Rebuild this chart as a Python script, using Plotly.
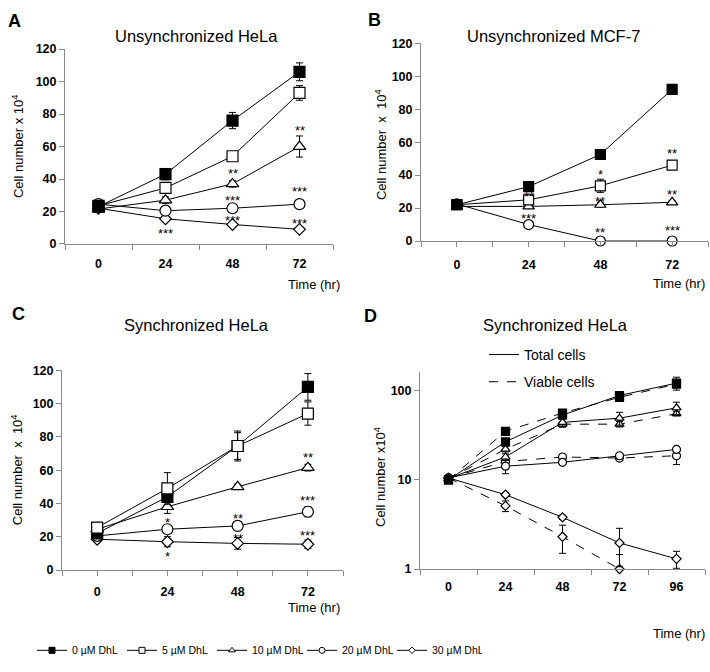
import plotly.graph_objects as go

# x categories (hours)
hours = [0, 24, 48, 72]
hours_d = [0, 24, 48, 72, 96]
dose_names = ["0 µM DhL", "5 µM DhL", "10 µM DhL", "20 µM DhL", "30 µM DhL"]

# A - unsynchronized HeLa (cell number x 10^4)
a_0 = [23, 43, 76, 106]
a_0_err = [1, 3.5, 5, 5.5]
a_5 = [23.5, 34.5, 54, 93]
a_5_err = [1, 2, 1.5, 4.5]
a_10 = [21.5, 27, 37, 60]
a_10_err = [1, 2, 2, 6.5]
a_20 = [24.5, 20.5, 22, 24.5]
a_20_err = [1, 1, 1, 2.5]
a_30 = [22, 15.5, 12, 9]
a_30_err = [0.5, 1, 1, 1]

# B - unsynchronized MCF-7
b_0 = [22, 33, 52.5, 92]
b_0_err = [0.5, 1, 2, 2]
b_5 = [22, 25, 33.5, 46]
b_5_err = [0.5, 1, 4, 1]
b_10 = [21, 21, 22, 23.5]
b_10_err = [0.5, 1, 1.5, 1]
b_20 = [22.5, 10, 0, 0]
b_20_err = [0.5, 1, 0, 0]

# C - synchronized HeLa
c_0 = [22, 44, 74.5, 110]
c_0_err = [1, 2, 8, 8]
c_5 = [25.5, 49, 74.5, 94]
c_5_err = [1, 9.5, 9, 7]
c_10 = [24.5, 38, 50, 61.5]
c_10_err = [1, 4, 1.5, 2]
c_20 = [20.5, 24.5, 26.5, 35]
c_20_err = [1, 1.5, 2, 3]
c_30 = [18.5, 17, 16, 15.5]
c_30_err = [1, 3, 3.5, 2.5]

# D - synchronized HeLa, total vs viable cells (log scale)
d_total_0 = [10, 26.6, 53, 88, 121]
d_total_0_err = [0.5, 2, 3, 4, 20]
d_viable_0 = [10, 34.9, 56, 84, 118]
d_viable_0_err = [0.5, 2, 3, 4, 10]
d_total_10 = [10.3, 18, 44, 49, 64]
d_total_10_err = [0.5, 1.5, 5, 8, 10]
d_viable_10 = [10.3, 22, 42, 42, 55]
d_viable_10_err = [0.5, 1.5, 3, 3, 3]
d_total_20 = [10.5, 14.2, 15.7, 18.6, 21.9]
d_total_20_err = [0.3, 2.5, 0.8, 1, 1]
d_viable_20 = [10.5, 16, 18, 17.5, 18.6]
d_viable_20_err = [0.3, 1, 1, 1, 3.8]
d_total_30 = [10.5, 6.8, 3.8, 1.96, 1.3]
d_total_30_err = [0.3, 0.3, 0.2, 0.9, 0.28]
d_viable_30 = [10.5, 5.1, 2.3, 1.0, None]
d_viable_30_err = [0.3, 0.7, 0.8, 0.45, 0]
d_viable_30_errminus = [0.3, 0.7, 0.8, 0, 0]

# significance marks: (hour, y, text)
stars_a = [(24, 8.5, "***"), (48, 45, "**"), (48, 28.5, "***"), (48, 16.5, "***"),
           (72, 72, "**"), (72, 34, "***"), (72, 14.5, "***")]
stars_b = [(24, 28.7, "**"), (24, 15.2, "***"), (48, 42, "*"), (48, 26, "**"),
           (48, 6.7, "**"), (72, 55, "**"), (72, 30, "**"), (72, 8, "***")]
stars_c = [(24, 30.4, "*"), (24, 9.8, "*"), (48, 33, "**"), (48, 21, "**"),
           (72, 69.6, "**"), (72, 43.5, "***"), (72, 22.5, "***")]

FONT = "Liberation Sans, Arial, sans-serif"
AXIS_GREY = "#8a8a8a"
W, H = 710, 672

STYLE = {
    "0 µM DhL": ("square", "black"),
    "5 µM DhL": ("square", "white"),
    "10 µM DhL": ("triangle-up", "white"),
    "20 µM DhL": ("circle", "white"),
    "30 µM DhL": ("diamond", "white"),
}

fig = go.Figure()


def add_series(x, y, err, dose, ax, size, dash="solid", errminus=None):
    symbol, fill = STYLE[dose]
    if symbol == "diamond":
        size = size - 2
    error = dict(type="data", array=err, color="black", thickness=1, width=3.5)
    if errminus is not None:
        error["symmetric"] = False
        error["arrayminus"] = errminus
    fig.add_trace(go.Scatter(
        x=x, y=y, mode="lines+markers",
        line=dict(color="black", width=1, dash=dash),
        marker=dict(symbol=symbol, size=size, color=fill,
                    line=dict(color="black", width=1.2)),
        error_y=error,
        xaxis="x" + ax, yaxis="y" + ax,
        showlegend=False, cliponaxis=False, hoverinfo="skip",
    ))


# panel A
for vals, err, dose in [(a_30, a_30_err, dose_names[4]), (a_20, a_20_err, dose_names[3]),
                        (a_10, a_10_err, dose_names[2]), (a_5, a_5_err, dose_names[1]),
                        (a_0, a_0_err, dose_names[0])]:
    add_series(hours, vals, err, dose, "", 11)

# panel B
for vals, err, dose in [(b_20, b_20_err, dose_names[3]), (b_10, b_10_err, dose_names[2]),
                        (b_5, b_5_err, dose_names[1]), (b_0, b_0_err, dose_names[0])]:
    add_series(hours, vals, err, dose, "2", 10)

# panel C
for vals, err, dose in [(c_30, c_30_err, dose_names[4]), (c_20, c_20_err, dose_names[3]),
                        (c_10, c_10_err, dose_names[2]), (c_0, c_0_err, dose_names[0]),
                        (c_5, c_5_err, dose_names[1])]:
    add_series(hours, vals, err, dose, "3", 11)

# panel D
add_series(hours_d, d_viable_30, d_viable_30_err, dose_names[4], "4", 9, "dash", d_viable_30_errminus)
add_series(hours_d, d_total_30, d_total_30_err, dose_names[4], "4", 9)
add_series(hours_d, d_viable_20, d_viable_20_err, dose_names[3], "4", 8, "dash")
add_series(hours_d, d_total_20, d_total_20_err, dose_names[3], "4", 8)
add_series(hours_d, d_viable_10, d_viable_10_err, dose_names[2], "4", 8, "dash")
add_series(hours_d, d_total_10, d_total_10_err, dose_names[2], "4", 8)
add_series(hours_d, d_viable_0, d_viable_0_err, dose_names[0], "4", 8, "dash")
add_series(hours_d, d_total_0, d_total_0_err, dose_names[0], "4", 8)

# bottom legend entries
for dose in dose_names:
    symbol, fill = STYLE[dose]
    fig.add_trace(go.Scatter(
        x=[None], y=[None], mode="lines+markers", name=dose,
        line=dict(color="black", width=1),
        marker=dict(symbol=symbol, size=6 if symbol != "diamond" else 5, color=fill,
                    line=dict(color="black", width=1)),
        legend="legend", showlegend=True,
    ))

# panel D line-style legend
for name, dash in [("Total cells", "solid"), ("Viable cells", "dash")]:
    fig.add_trace(go.Scatter(
        x=[None], y=[None], mode="lines", name=name,
        line=dict(color="black", width=1, dash=dash),
        xaxis="x4", yaxis="y4", legend="legend2", legendgroup=name, showlegend=True,
    ))


def px_x(p):
    return p / W


def px_y(p):
    return 1 - p / H


TICKFONT = dict(family=FONT, size=12.5, color="black", weight="bold")


def x_axis(left, right, rng, anchor, vals, minor_vals, major_ticks, standoff):
    return dict(
        domain=[px_x(left), px_x(right)], anchor=anchor, range=rng,
        showline=True, linecolor=AXIS_GREY, linewidth=1,
        showgrid=False, zeroline=False,
        tickmode="array", tickvals=vals, ticktext=[str(v) for v in vals],
        ticks="outside" if major_ticks else "", ticklen=5, tickcolor=AXIS_GREY,
        ticklabelstandoff=standoff,
        minor=dict(tickmode="array", tickvals=minor_vals, ticks="outside",
                   ticklen=5, tickcolor=AXIS_GREY, showgrid=False),
        tickfont=TICKFONT,
        fixedrange=True,
    )


def y_axis(bottom, top, rng, anchor, vals, log=False):
    d = dict(
        domain=[px_y(bottom), px_y(top)], anchor=anchor, range=rng,
        showline=True, linecolor=AXIS_GREY, linewidth=1,
        showgrid=False, zeroline=False,
        tickmode="array", tickvals=vals, ticktext=[str(v) for v in vals],
        ticks="outside", ticklen=5, tickcolor=AXIS_GREY,
        tickfont=TICKFONT,
        fixedrange=True,
    )
    if log:
        d["type"] = "log"
    return d


y_ticks = [0, 20, 40, 60, 80, 100, 120]
edges = [-12, 12, 36, 60, 84]
edges_d = [-12, 12, 36, 60, 84, 108]

fig.update_layout(
    width=W, height=H,
    margin=dict(l=0, r=0, t=0, b=0),
    paper_bgcolor="white", plot_bgcolor="white",
    font=dict(family=FONT, size=13, color="black"),
    xaxis=x_axis(65, 333, [-12, 84], "y", hours, edges, False, 8),
    yaxis=y_axis(242, 43, [0, 120], "x", y_ticks),
    xaxis2=x_axis(421, 708, [-12, 84], "y2", hours, edges, True, 7),
    yaxis2=y_axis(239, 37, [0, 120], "x2", y_ticks),
    xaxis3=x_axis(62, 343, [-12, 84], "y3", hours, edges, True, 5),
    yaxis3=y_axis(575, 371, [0, 120], "x3", y_ticks),
    xaxis4=x_axis(420, 705, [-12, 108], "y4", hours_d, edges_d, False, 6),
    yaxis4=y_axis(574, 373, [0, 2.205], "x4", [1, 10, 100], log=True),
    legend=dict(orientation="h", x=px_x(32), y=px_y(657), xanchor="left", yanchor="middle",
                font=dict(family=FONT, size=10.5, color="black"), bgcolor="rgba(0,0,0,0)",
                entrywidthmode="pixels", entrywidth=45,
                itemclick=False, itemdoubleclick=False),
    legend2=dict(orientation="v", x=px_x(484), y=px_y(339), xanchor="left", yanchor="top",
                 font=dict(family=FONT, size=14, color="black"), bgcolor="rgba(0,0,0,0)",
                 tracegroupgap=6, itemclick=False, itemdoubleclick=False),
)

annotations = []


def text(x, y, s, size=13, bold=False, angle=0):
    annotations.append(dict(
        x=px_x(x), y=px_y(y), xref="paper", yref="paper", text=s, showarrow=False,
        textangle=angle, xanchor="center", yanchor="middle",
        font=dict(family=FONT, size=size, color="black", weight="bold" if bold else "normal")))


# panel letters
text(14, 14, "A", 18, True)
text(374, 13, "B", 18, True)
text(18, 314, "C", 18, True)
text(370, 316, "D", 18, True)

# panel titles
text(196, 30, "Unsynchronized HeLa", 16.5)
text(553, 30, "Unsynchronized MCF-7", 16.5)
text(196, 325, "Synchronized HeLa", 16.5)
text(555, 325, "Synchronized HeLa", 16.5)

# y axis titles
text(18, 143, "Cell number x 10<sup>4</sup>", 13, angle=-90)
text(381, 140, "Cell number  x  10<sup>4</sup>", 13, angle=-90)
text(17, 473, "Cell number  x  10<sup>4</sup>", 13, angle=-90)
text(380, 480, "Cell number x10<sup>4</sup>", 13, angle=-90)

# x axis titles
text(314, 283, "Time (hr)", 13)
text(679, 282, "Time (hr)", 13)
text(314, 613, "Time (hr)", 13)
text(679, 640, "Time (hr)", 13)

# asterisks in data coordinates
for stars, ax in [(stars_a, ""), (stars_b, "2"), (stars_c, "3")]:
    for hx, hy, s in stars:
        annotations.append(dict(
            x=hx, y=hy, xref="x" + ax, yref="y" + ax, text=s, showarrow=False,
            yshift=-3, font=dict(family=FONT, size=13, color="black")))

fig.update_layout(annotations=annotations)

# the page body has a default 8px margin; drop it so the figure fills the window
fig.write_html("out.html", config={"displayModeBar": False},
               post_script="document.body.style.margin='0';document.body.style.overflow='hidden';")
